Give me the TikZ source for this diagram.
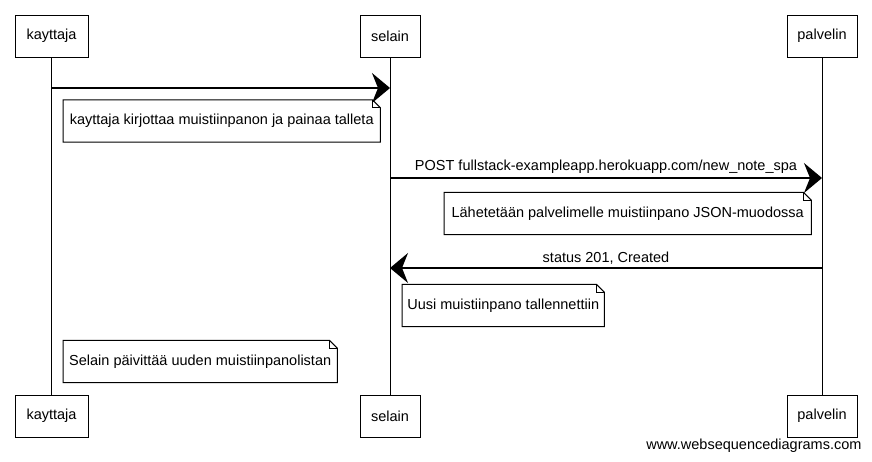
\documentclass[tikz,border=0pt]{standalone}
\usepackage{fontspec}
\setmainfont{Liberation Sans}
\usetikzlibrary{arrows.meta, calc, positioning}
\tikzset{
>={Stealth[length=18pt,width=30pt,inset=6pt]}, % big filled heads
every node/.style={font=\fontsize{14.5}{16}\selectfont},
actor/.style={draw, line width=1pt, minimum height=42pt, inner sep=0pt},
memo/.style={minimum height=42pt, inner sep=0pt, anchor=west},
lifeline/.style={line width=1pt},
msg/.style={->, line width=1.5pt},
}

\begin{document}
\begin{tikzpicture}[x=1pt,y=-1pt]
  \useasboundingbox (0,0) rectangle (872,461);
  % participants
  \node[actor, minimum width=73pt] (kay1) at (51.5,36) {kayttaja};
  \node[actor, minimum width=60pt] (sel1) at (390,36) {selain};
  \node[actor, minimum width=70pt] (pal1) at (822,36) {palvelin};
  \node[actor, minimum width=73pt] (kay2) at (51.5,416) {kayttaja};
  \node[actor, minimum width=60pt] (sel2) at (390,416) {selain};
  \node[actor, minimum width=70pt] (pal2) at (822,416) {palvelin};
  \draw[lifeline] (kay1) -- (kay2);
  \draw[lifeline] (sel1) -- (sel2);
  \draw[lifeline] (pal1) -- (pal2);
  % messages
  \coordinate (k1) at (51.5,88);
  \coordinate (s1) at (390,88);
  \coordinate (s2) at (390,178);
  \coordinate (p2) at (822,178);
  \coordinate (p3) at (822,268);
  \coordinate (s3) at (390,268);
  \draw[msg] (k1) -- (s1);
  \draw[msg] (s2) -- node[above=0pt] (post) {POST fullstack-exampleapp.herokuapp.com/new\_note\_spa} (p2);
  \draw[msg] (p3) -- node[above=0pt] (stat) {status 201, Created} (s3);
  % notes
  \node[memo, minimum width=317pt] (n1) at (63,121) {kayttaja kirjottaa muistiinpanon ja painaa talleta};
  \node[memo, minimum width=367pt] (n2) at (444,213.5) {Lähetetään palvelimelle muistiinpano JSON-muodossa};
  \node[memo, minimum width=202pt] (n3) at (402,305.5) {Uusi muistiinpano tallennettiin};
  \node[memo, minimum width=274pt] (n4) at (63,361.5) {Selain päivittää uuden muistiinpanolistan};
  \foreach \n in {n1,n2,n3,n4} {
    \draw[line width=1pt] (\n.north west) -- ($(\n.north east)+(-8,0)$) -- ($(\n.north east)+(0,8)$)
      -- (\n.south east) -- (\n.south west) -- cycle;
    \draw[line width=0.7pt] ($(\n.north east)+(-8,0)$) |- ($(\n.north east)+(0,8)$);
  }
  \node[anchor=east] (web) at (865,446) {www.websequencediagrams.com};
\end{tikzpicture}
\end{document}
